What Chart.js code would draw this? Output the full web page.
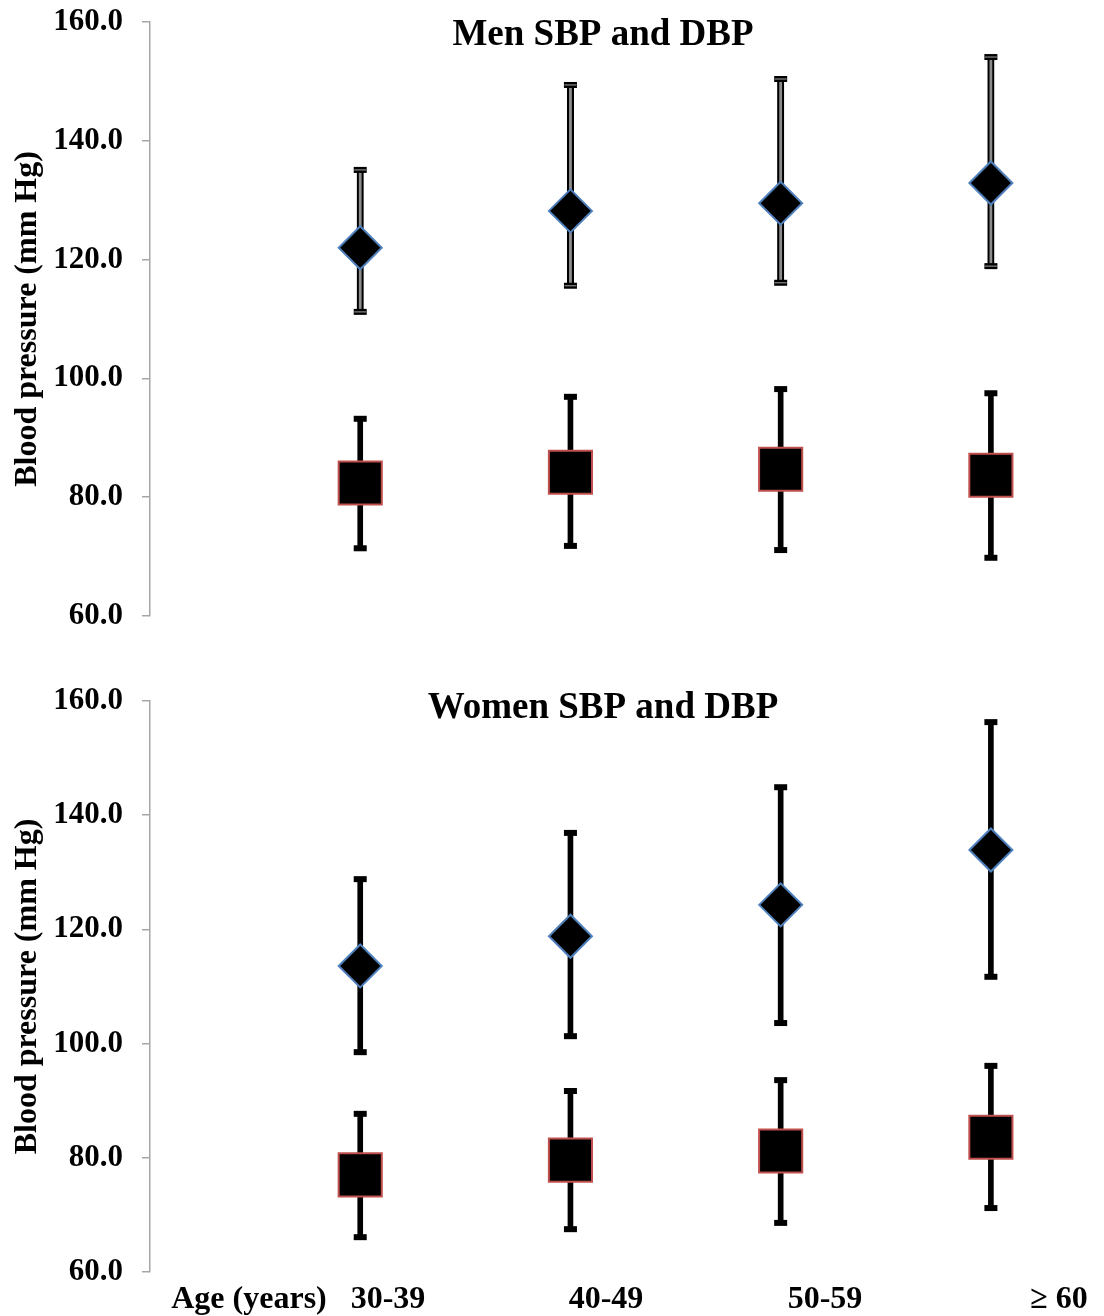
<!DOCTYPE html>
<html>
<head>
<meta charset="utf-8">
<script src="https://cdn.jsdelivr.net/npm/chart.js@4/dist/chart.umd.min.js"></script>
<style>
  html, body { margin: 0; padding: 0; background: #fff; }
  #wrap { position: relative; width: 1104px; height: 1316px; overflow: hidden; }
  #c1 { position: absolute; left: 0; top: -18px; }
  #c2 { position: absolute; left: 0; top: 661px; }
  .xl { position: absolute; top: 1277px; transform: translateX(-50%); white-space: nowrap;
        font-family: "Liberation Serif", "Times New Roman", serif; font-weight: bold; font-size: 32px; line-height: 40px; color: #000; }
</style>
</head>
<body>
<div id="wrap">
  <canvas id="c1" width="1104" height="674"></canvas>
  <canvas id="c2" width="1104" height="651"></canvas>
  <div class="xl" id="axisName" style="left:249px">Age (years)</div>
  <div class="xl" id="lab0" style="left:388px"></div>
  <div class="xl" id="lab1" style="left:606px"></div>
  <div class="xl" id="lab2" style="left:825px"></div>
  <div class="xl" id="lab3" style="left:1059px"></div>
</div>
<script>
// ---- data ----
const ageGroups = ['30-39', '40-49', '50-59', '\u2265 60'];
const agePositions = [1, 2, 3, 4];
const yTicks = [60, 80, 100, 120, 140, 160];

const menSbpMean = [122.0, 128.2, 129.5, 132.9];
const menSbpHigh = [135.1, 149.4, 150.4, 154.1];
const menSbpLow  = [111.2, 115.6, 116.1, 118.9];
const menDbpMean = [82.4, 84.2, 84.7, 83.7];
const menDbpHigh = [93.2, 96.9, 98.2, 97.5];
const menDbpLow  = [71.4, 71.8, 71.1, 69.8];

const womenSbpMean = [113.6, 118.8, 124.3, 133.9];
const womenSbpHigh = [128.8, 136.9, 144.9, 156.3];
const womenSbpLow  = [98.5, 101.3, 103.6, 111.7];
const womenDbpMean = [77.0, 79.6, 81.2, 83.6];
const womenDbpHigh = [87.7, 91.7, 93.6, 96.1];
const womenDbpLow  = [66.1, 67.5, 68.6, 71.2];

ageGroups.forEach((g, i) => { document.getElementById('lab' + i).textContent = g; });

const FONT = '"Liberation Serif", "Times New Roman", serif';
const BLUE = '#4f81bd';
const RED = '#c0504d';

function pts(ys) { return agePositions.map((x, i) => ({ x: x, y: ys[i] })); }
function ranges(lo, hi) { return agePositions.map((x, i) => ({ x: x, y: [lo[i], hi[i]] })); }

function whiskerSets(lo, hi, hollow) {
  const sets = [];
  sets.push({
    type: 'bar', data: ranges(lo, hi), grouped: false,
    barThickness: hollow ? 6.5 : 5,
    backgroundColor: hollow ? '#8c8c8c' : '#000',
    borderColor: '#000', borderWidth: hollow ? { left: 2.2, right: 2.2, top: 0, bottom: 0 } : 0,
    borderSkipped: false, order: 3
  });
  const caps = pts(hi).concat(pts(lo));
  sets.push({
    type: 'scatter', data: caps, pointStyle: 'line', pointRadius: 6.5,
    borderColor: '#000', borderWidth: 6, order: 2
  });
  if (hollow) {
    sets.push({
      type: 'scatter', data: caps, pointStyle: 'line', pointRadius: 6,
      borderColor: '#8c8c8c', borderWidth: 1.2, order: 1
    });
  }
  return sets;
}

function markerSets(sbp, dbp) {
  return [
    { type: 'scatter', data: pts(sbp), pointStyle: 'rectRot', pointRadius: 21.5,
      backgroundColor: '#000', borderColor: BLUE, borderWidth: 2, order: 0 },
    { type: 'scatter', data: pts(dbp), pointStyle: 'rect', pointRadius: 30.5,
      backgroundColor: '#000', borderColor: RED, borderWidth: 2, order: 0 }
  ];
}

function titlePlugin(text, x, y) {
  return {
    id: 'innerTitle',
    afterDraw(chart) {
      const ctx = chart.ctx;
      ctx.save();
      ctx.font = 'bold 37px ' + FONT;
      ctx.fillStyle = '#000';
      ctx.textAlign = 'center';
      ctx.textBaseline = 'middle';
      ctx.fillText(text, x, y);
      ctx.restore();
    }
  };
}

function makeChart(id, datasets, title, tx, ty) {
  return new Chart(document.getElementById(id), {
    type: 'scatter',
    data: { datasets: datasets },
    plugins: [titlePlugin(title, tx, ty)],
    options: {
      responsive: false,
      animation: false,
      layout: { autoPadding: false, padding: { top: 40, bottom: 40, left: 0, right: 8 } },
      plugins: { legend: { display: false }, tooltip: { enabled: false } },
      scales: {
        x: { type: 'linear', display: false, min: 0, max: 4.5, offset: false },
        y: {
          type: 'linear', min: 60, max: 160,
          afterBuildTicks: (s) => { s.ticks = yTicks.map(v => ({ value: v })); },
          afterFit: (s) => { s.width = 150; },
          ticks: { callback: (v) => Number(v).toFixed(1), color: '#000', padding: 19,
                   font: { family: FONT, size: 31, weight: 'bold' } },
          grid: { display: true, drawOnChartArea: false, tickLength: 8, color: '#a6a6a6', lineWidth: 1.5 },
          border: { display: true, color: '#a6a6a6', width: 1.5 },
          title: { display: true, text: 'Blood pressure (mm Hg)', color: '#000',
                   font: { family: FONT, size: 32, weight: 'bold' }, padding: { top: 9, bottom: 0 } }
        }
      }
    }
  });
}

makeChart('c1',
  whiskerSets(menSbpLow, menSbpHigh, true)
    .concat(whiskerSets(menDbpLow, menDbpHigh, false))
    .concat(markerSets(menSbpMean, menDbpMean)),
  'Men SBP and DBP', 603, 53);

makeChart('c2',
  whiskerSets(womenSbpLow, womenSbpHigh, false)
    .concat(whiskerSets(womenDbpLow, womenDbpHigh, false))
    .concat(markerSets(womenSbpMean, womenDbpMean)),
  'Women SBP and DBP', 603, 47);
</script>
</body>
</html>
